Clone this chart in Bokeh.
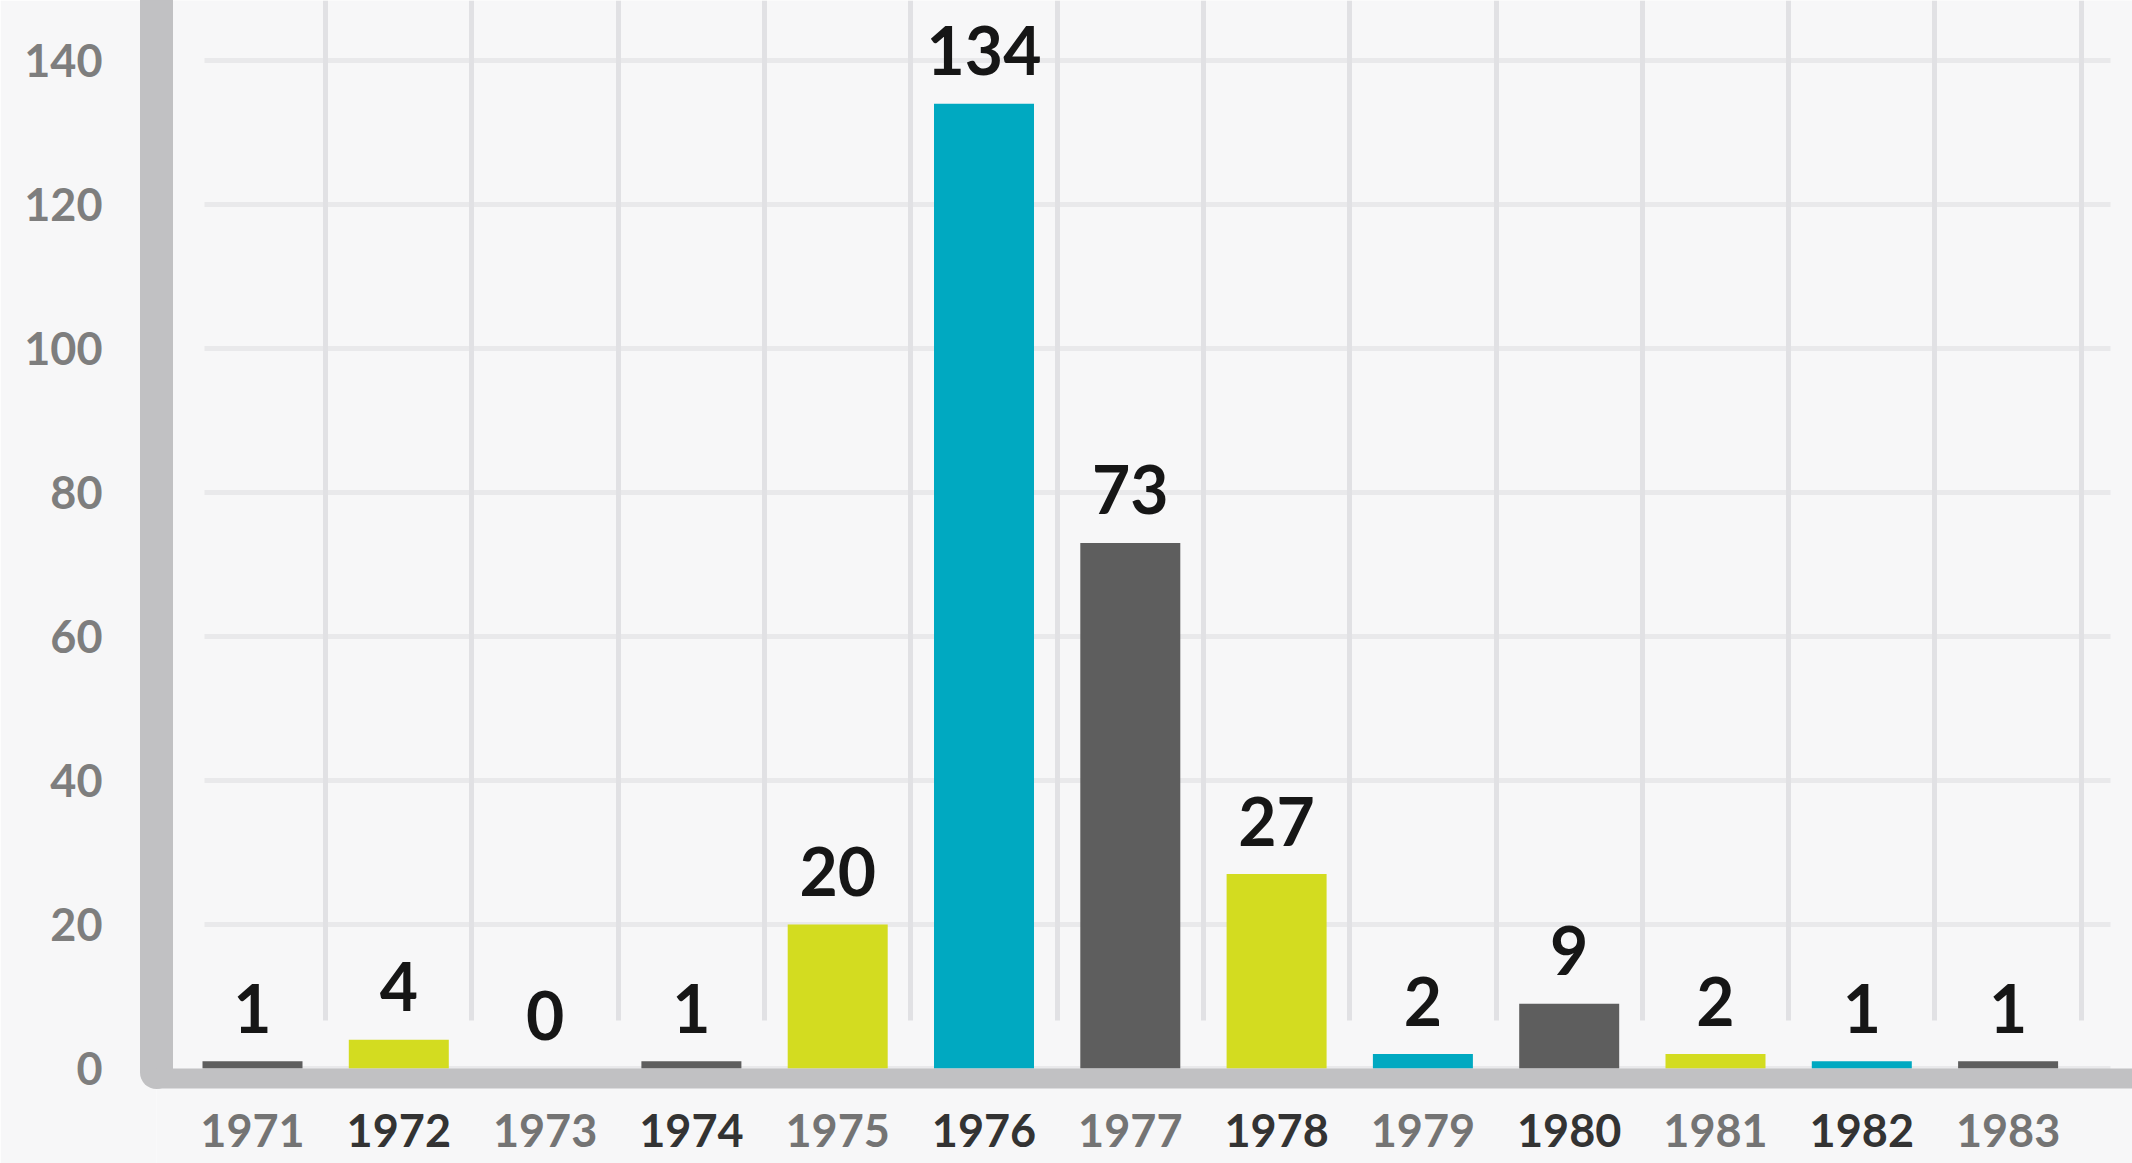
from bokeh.plotting import figure
from bokeh.models import ColumnDataSource, FixedTicker, Range1d, Span, Grid
from bokeh.core.properties import value
from bokeh.embed import file_html
from bokeh.resources import INLINE

# ---- data ----
years = [1971, 1972, 1973, 1974, 1975, 1976, 1977, 1978, 1979, 1980, 1981, 1982, 1983]
counts = [1, 4, 0, 1, 20, 134, 73, 27, 2, 9, 2, 1, 1]
year_labels = [str(y) for y in years]
y_ticks = [0, 20, 40, 60, 80, 100, 120, 140]

# ---- styles ----
BG = "#f7f7f8"
BAND = "#c1c1c3"
GRID_H = "#e9e9eb"
GRID_V = "#e1e1e4"
palette = ["#5e5e5e", "#d3dc20", "#00a9c1"]
bar_colors = [palette[i % 3] for i in range(len(years))]
year_colors = ["#747474" if i % 2 == 0 else "#333333" for i in range(len(years))]
FONT = "Lato"

# ---- geometry (screen pixels) ----
W, H = 2132, 1163
LEFT = 156              # frame left (centre of the left band)
PX_YEAR = 146.3         # pixels per category
PX_UNIT = 7.2           # pixels per count unit
ZERO_PX = 1068          # figure y of value 0 (top edge of bottom band)
x_start = years[0] - (252 - LEFT) / PX_YEAR
x_end = x_start + (W - LEFT) / PX_YEAR
y_start = -(H - ZERO_PX) / PX_UNIT
y_end = ZERO_PX / PX_UNIT
band_y = -10 / PX_UNIT  # centre of the bottom band (20px thick)

p = figure(width=W, height=H,
           x_range=Range1d(x_start, x_end), y_range=Range1d(y_start, y_end),
           output_backend="svg", toolbar_location=None,
           x_axis_location=None, y_axis_location="left",
           min_border_left=LEFT, min_border_right=0, min_border_top=0, min_border_bottom=0,
           background_fill_color=BG, border_fill_color=BG, outline_line_color=None)

p.xgrid.visible = False
p.ygrid.visible = False

has_cross = "cross_bounds" in Grid.properties()

hgrid = Grid(dimension=1, ticker=FixedTicker(ticks=y_ticks), bounds=(y_ticks[1], y_ticks[-1]),
             grid_line_color=GRID_H, grid_line_width=5)
vgrid = Grid(dimension=0, ticker=FixedTicker(ticks=[y + 0.5 for y in years]),
             grid_line_color=GRID_V, grid_line_width=5)
if has_cross:
    hgrid.cross_bounds = (years[0] - 0.33, years[-1] + 0.7)
    vgrid.cross_bounds = (48 / PX_UNIT, y_end)
    p.add_layout(hgrid)
    p.add_layout(vgrid)
else:
    p.add_layout(hgrid)
    p.segment(x0=[y + 0.5 for y in years], x1=[y + 0.5 for y in years],
              y0=48 / PX_UNIT, y1=y_end, line_color=GRID_V, line_width=5, level="underlay")

# y axis: thick rounded band
yax = p.yaxis[0]
yax.ticker = FixedTicker(ticks=y_ticks)
yax.bounds = (-3.5 / PX_UNIT, y_end + 5)
yax.axis_line_color = BAND
yax.axis_line_width = 33
yax.axis_line_cap = "round"
yax.major_tick_line_color = None
yax.minor_tick_line_color = None
yax.major_tick_out = 0
yax.major_tick_in = 0
yax.major_label_standoff = 54
yax.major_label_text_font = FONT
yax.major_label_text_font_size = "45px"
yax.major_label_text_font_style = "bold"
yax.major_label_text_color = "#7e7e7e"

src = ColumnDataSource(dict(x=years, top=counts, color=bar_colors,
                            label=[str(c) for c in counts],
                            year=year_labels, ycolor=year_colors))

p.vbar(x="x", top="top", bottom=0, width=100 / PX_YEAR, fill_color="color",
       line_color=None, source=src)

# bottom band
p.add_layout(Span(location=band_y, dimension="width", line_color=BAND, line_width=20))

# value labels
p.text(x="x", y="top", text="label", source=src, y_offset=-53,
       text_align="center", text_baseline="alphabetic",
       text_font=value(FONT), text_font_style="bold", text_font_size="66px",
       text_color="#161616")

# year labels
p.text(x="x", y=0, text="year", source=src, y_offset=62,
       text_align="center", text_baseline="alphabetic",
       text_font=value(FONT), text_font_style="bold", text_font_size="45px",
       text_color="ycolor")

open("out.html", "w").write(file_html(p, INLINE))
